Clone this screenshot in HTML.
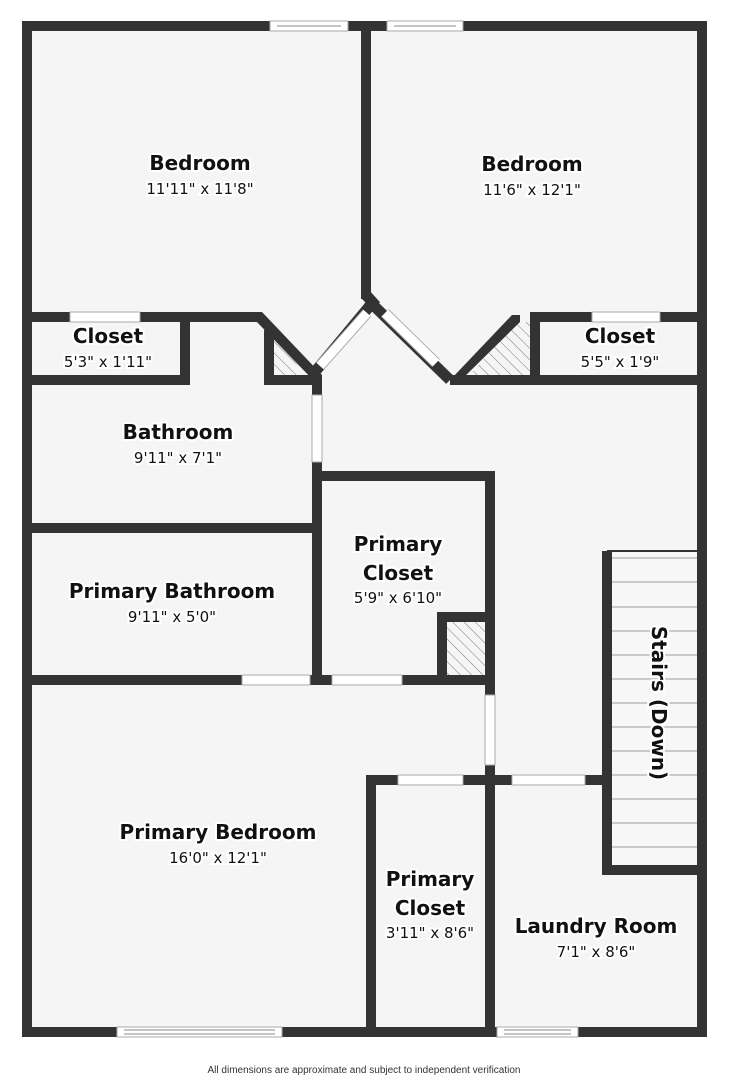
<!DOCTYPE html>
<html><head><meta charset="utf-8"><style>
html,body{margin:0;padding:0;background:#fff;}
svg{display:block;}
.l{font-family:"DejaVu Sans","Liberation Sans",sans-serif;font-weight:bold;font-size:20px;fill:#111;stroke:#fff;stroke-width:4px;paint-order:stroke;text-anchor:middle;}
.d{font-family:"DejaVu Sans","Liberation Sans",sans-serif;font-size:15px;fill:#111;stroke:#fff;stroke-width:4px;paint-order:stroke;text-anchor:middle;}
</style></head><body>
<svg width="729" height="1080" viewBox="0 0 729 1080" xmlns="http://www.w3.org/2000/svg">
<defs><pattern id="h" width="8" height="8" patternUnits="userSpaceOnUse" patternTransform="rotate(-45)"><rect width="8" height="8" fill="#f5f5f5"/><line x1="0" y1="0" x2="0" y2="8" stroke="#777" stroke-width="1"/></pattern></defs>
<rect x="22" y="21" width="685" height="1016" fill="#f5f5f5"/>
<rect x="612" y="551" width="85" height="314" fill="#f7f7f7"/>
<g stroke="#bbb" stroke-width="1.5">
<line x1="612" y1="558" x2="697" y2="558"/><line x1="612" y1="582" x2="697" y2="582"/><line x1="612" y1="607" x2="697" y2="607"/><line x1="612" y1="631" x2="697" y2="631"/><line x1="612" y1="655" x2="697" y2="655"/><line x1="612" y1="679" x2="697" y2="679"/><line x1="612" y1="703" x2="697" y2="703"/><line x1="612" y1="727" x2="697" y2="727"/><line x1="612" y1="751" x2="697" y2="751"/><line x1="612" y1="775" x2="697" y2="775"/><line x1="612" y1="799" x2="697" y2="799"/><line x1="612" y1="823" x2="697" y2="823"/><line x1="612" y1="847" x2="697" y2="847"/></g>
<line x1="607" y1="551" x2="697" y2="551" stroke="#333" stroke-width="2"/>
<polygon points="274,335 274,375 305,375" fill="url(#h)"/>
<polygon points="470,375 530,375 530,322 515,322" fill="url(#h)"/>
<rect x="447" y="622" width="38" height="53" fill="url(#h)"/>
<g fill="#333">
<rect x="22" y="21" width="685" height="10"/><rect x="22" y="1027" width="685" height="10"/>
<rect x="22" y="21" width="10" height="1016"/><rect x="697" y="21" width="10" height="1016"/>
<rect x="361" y="31" width="10" height="268"/>
<rect x="32" y="312" width="228" height="10"/>
<polygon points="255,312 262,312 322,375 316,383 255,320"/>
<rect x="180" y="312" width="10" height="73"/>
<rect x="32" y="375" width="158" height="10"/>
<rect x="264" y="330" width="10" height="55"/>
<rect x="264" y="375" width="58" height="10"/>
<rect x="530" y="312" width="167" height="10"/>
<rect x="530" y="312" width="10" height="73"/>
<rect x="450" y="375" width="247" height="10"/>
<polygon points="452,378 512,315 520,315 520,322 458,383"/>
<rect x="312" y="378" width="10" height="307"/>
<rect x="32" y="523" width="290" height="10"/>
<rect x="322" y="471" width="173" height="10"/>
<rect x="485" y="471" width="10" height="224"/>
<rect x="437" y="612" width="58" height="10"/><rect x="437" y="612" width="10" height="73"/>
<rect x="32" y="675" width="463" height="10"/>
<rect x="485" y="765" width="10" height="262"/>
<rect x="366" y="775" width="240" height="10"/>
<rect x="366" y="775" width="10" height="252"/>
<rect x="602" y="551" width="10" height="324"/>
<rect x="602" y="865" width="95" height="10"/>
</g>
<g stroke="#333" stroke-width="11" stroke-linecap="butt">
<line x1="366" y1="295" x2="376" y2="306"/>
<line x1="373" y1="302" x2="314" y2="373"/>
<line x1="368" y1="300" x2="450" y2="380"/>
</g>
<g stroke="#aaa" stroke-width="11"><line x1="367" y1="313" x2="320" y2="366"/><line x1="385" y1="313" x2="436" y2="363"/></g>
<g stroke="#fff" stroke-width="9"><line x1="367" y1="313" x2="320" y2="366"/><line x1="385" y1="313" x2="436" y2="363"/></g>
<g fill="#fff" stroke="#aaa" stroke-width="1">
<rect x="270" y="21" width="78" height="10"/><rect x="387" y="21" width="76" height="10"/>
<rect x="70" y="312" width="70" height="10"/><rect x="592" y="312" width="68" height="10"/>
<rect x="312" y="395" width="10" height="67"/>
<rect x="242" y="675" width="68" height="10"/><rect x="332" y="675" width="70" height="10"/>
<rect x="485" y="695" width="10" height="70"/>
<rect x="398" y="775" width="65" height="10"/><rect x="512" y="775" width="73" height="10"/>
<rect x="117" y="1027" width="165" height="10"/><rect x="497" y="1027" width="81" height="10"/>
</g>
<g stroke="#888" stroke-width="1"><line x1="124" y1="1030" x2="275" y2="1030"/><line x1="124" y1="1034" x2="275" y2="1034"/><line x1="504" y1="1030" x2="571" y2="1030"/><line x1="504" y1="1034" x2="571" y2="1034"/><line x1="277" y1="26" x2="341" y2="26"/><line x1="394" y1="26" x2="456" y2="26"/></g>
<text class="l" x="200" y="170">Bedroom</text><text class="d" x="200" y="194">11'11" x 11'8"</text>
<text class="l" x="532" y="171">Bedroom</text><text class="d" x="532" y="195">11'6" x 12'1"</text>
<text class="l" x="108" y="343">Closet</text><text class="d" x="108" y="367">5'3" x 1'11"</text>
<text class="l" x="620" y="343">Closet</text><text class="d" x="620" y="367">5'5" x 1'9"</text>
<text class="l" x="178" y="439">Bathroom</text><text class="d" x="178" y="463">9'11" x 7'1"</text>
<text class="l" x="398" y="551">Primary</text><text class="l" x="398" y="580">Closet</text><text class="d" x="398" y="603">5'9" x 6'10"</text>
<text class="l" x="172" y="598">Primary Bathroom</text><text class="d" x="172" y="622">9'11" x 5'0"</text>
<text class="l" x="218" y="839">Primary Bedroom</text><text class="d" x="218" y="863">16'0" x 12'1"</text>
<text class="l" x="430" y="886">Primary</text><text class="l" x="430" y="915">Closet</text><text class="d" x="430" y="938">3'11" x 8'6"</text>
<text class="l" x="596" y="933">Laundry Room</text><text class="d" x="596" y="957">7'1" x 8'6"</text>
<text class="l" transform="translate(652,703) rotate(90)" x="0" y="0">Stairs (Down)</text>
<text x="364" y="1073" font-family="'Liberation Sans',sans-serif" font-size="10" fill="#333" text-anchor="middle">All dimensions are approximate and subject to independent verification</text>
</svg>
</body></html>
